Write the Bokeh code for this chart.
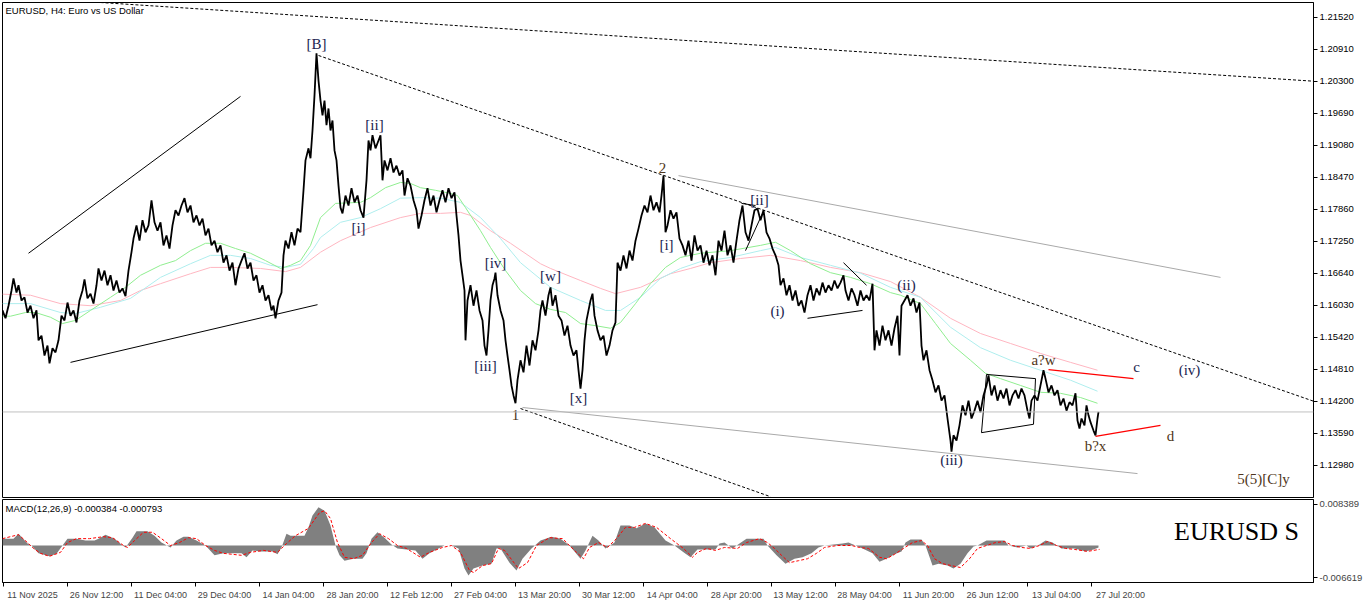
from bokeh.plotting import figure
from bokeh.layouts import column
from bokeh.models import Range1d, FixedTicker, NumeralTickFormatter, Span, Label, ColumnDataSource
from bokeh.core.properties import value
from bokeh.embed import file_html
from bokeh.resources import INLINE

# ---------------- data ----------------
bar_x = [2,5,8,11,13,16,18,21,24,27,30,33,36,38,41,44,47,49,52,55,58,61,64,67,70,73,76,79,82,84,87,90,93,96,98,
         101,104,107,110,113,116,119,122,125,128,131,133,136,139,142,145,148,151,154,157,160,163,166,169,172,175,178,
         181,184,187,190,193,196,199,202,205,208,211,214,217,220,223,226,229,232,235,238,241,244,247,250,253,256,259,
         262,265,268,271,273,275,278,281,283,285,288,291,294,297,300,303,305,308,310,312,314,316,318,320,322,324,326,
         328,330,332,334,336,338,340,342,345,348,351,354,357,360,363,366,368,370,372,375,378,380,382,384,387,390,393,
         396,399,402,404,407,410,413,416,418,421,424,427,430,433,436,439,442,445,448,451,454,456,458,460,462,464,465,
         467,470,473,476,479,482,484,486,488,490,492,494,495,497,500,503,505,507,509,511,513,515,517,520,523,526,529,
         532,535,538,540,542,545,548,550,552,555,558,561,564,567,570,573,576,578,580,582,584,586,588,590,592,594,597,
         600,603,606,609,612,615,617,620,623,626,629,632,635,638,641,644,647,650,653,656,659,661,663,665,667,670,673,
         676,679,682,685,688,691,694,697,700,703,706,709,712,715,718,721,724,727,730,733,736,739,742,745,748,751,754,
         757,760,763,766,769,772,775,778,780,783,786,789,792,795,798,801,804,807,810,813,816,819,822,825,828,831,834,
         837,840,843,845,848,851,854,857,860,863,866,869,872,874,876,879,882,885,888,891,894,897,899,901,904,907,910,
         913,916,919,921,923,926,929,932,935,938,941,944,947,950,951,953,956,959,962,965,968,971,974,977,980,983,986,
         988,991,994,997,1000,1003,1006,1009,1012,1015,1018,1021,1024,1027,1029,1031,1034,1037,1040,1043,1045,1048,
         1051,1054,1057,1060,1063,1066,1069,1072,1075,1077,1079,1081,1084,1086,1088,1090,1093,1095,1097,1098]
close = [1.1593,1.1578,1.1602,1.1631,1.1654,1.1627,1.1641,1.1612,1.1618,1.1589,1.1602,1.1578,1.1593,1.1536,1.1545,
         1.1507,1.1526,1.1492,1.1521,1.1513,1.1536,1.1583,1.1574,1.1608,1.1583,1.1593,1.1570,1.1612,1.1631,1.1652,
         1.1616,1.1625,1.1606,1.1641,1.1673,
         1.1650,1.1669,1.1641,1.1660,1.1631,1.1650,1.1627,1.1635,1.1620,1.1669,1.1704,1.1730,1.1755,1.1726,1.1765,
         1.1742,1.1755,1.1803,1.1761,1.1745,1.1761,1.1717,1.1736,1.1711,1.1755,1.1784,1.1774,
         1.1793,1.1807,1.1780,1.1793,1.1761,1.1774,1.1755,1.1768,1.1736,1.1749,1.1717,1.1726,1.1704,1.1717,1.1684,
         1.1698,1.1669,1.1684,1.1641,1.1673,1.1688,1.1702,1.1673,1.1684,1.1650,1.1660,1.1627,
         1.1641,1.1612,1.1622,1.1593,1.1602,1.1578,1.1612,1.1627,1.1698,1.1726,1.1711,1.1742,1.1717,1.1749,1.1742,
         1.1822,1.1879,1.1902,1.1883,1.1936,1.2003,1.2083,1.2031,1.1993,1.1965,1.1993,1.1946,
         1.1978,1.1936,1.1955,1.1898,1.1879,1.1831,1.1789,1.1778,1.1812,1.1793,1.1826,1.1799,1.1812,1.1784,1.1770,
         1.1841,1.1917,1.1898,1.1927,1.1902,1.1917,1.1927,1.1841,1.1879,1.1860,1.1883,1.1856,
         1.1869,1.1850,1.1860,1.1812,1.1845,1.1831,1.1803,1.1784,1.1749,1.1774,1.1803,1.1826,1.1793,1.1812,1.1780,
         1.1803,1.1822,1.1799,1.1826,1.1807,1.1818,1.1774,1.1736,1.1688,1.1660,1.1631,1.1536,
         1.1612,1.1641,1.1602,1.1631,1.1593,1.1574,1.1526,1.1507,1.1555,1.1612,1.1641,1.1654,1.1665,1.1622,1.1593,
         1.1574,1.1536,1.1507,1.1479,1.1450,1.1431,1.1416,1.1460,1.1498,1.1475,1.1526,1.1488,
         1.1536,1.1517,1.1555,1.1593,1.1612,1.1583,1.1622,1.1637,1.1602,1.1622,1.1583,1.1574,1.1545,1.1564,1.1526,
         1.1507,1.1517,1.1479,1.1444,1.1479,1.1536,1.1574,1.1593,1.1612,1.1625,1.1583,1.1555,
         1.1536,1.1545,1.1507,1.1526,1.1555,1.1570,1.1684,1.1669,1.1698,1.1673,1.1707,1.1688,1.1726,1.1749,1.1774,
         1.1793,1.1780,1.1812,1.1784,1.1799,1.1780,1.1812,1.1850,1.1742,1.1755,1.1784,1.1768,
         1.1780,1.1730,1.1717,1.1698,1.1726,1.1688,1.1736,1.1707,1.1717,1.1684,1.1707,1.1679,1.1698,1.1660,1.1726,
         1.1707,1.1745,1.1698,1.1717,1.1684,1.1726,1.1765,1.1793,1.1742,1.1726,1.1755,1.1784,
         1.1787,1.1765,1.1784,1.1742,1.1730,1.1711,1.1698,1.1679,1.1641,1.1654,1.1622,1.1641,1.1612,1.1631,1.1602,
         1.1612,1.1589,1.1622,1.1641,1.1612,1.1635,1.1622,1.1646,1.1627,1.1641,1.1631,1.1650,
         1.1635,1.1646,1.1660,1.1631,1.1612,1.1635,1.1622,1.1602,1.1631,1.1612,1.1622,1.1612,1.1644,1.1517,1.1555,
         1.1526,1.1564,1.1536,1.1555,1.1526,1.1559,1.1583,1.1507,1.1602,1.1612,1.1622,1.1602,
         1.1616,1.1589,1.1608,1.1526,1.1498,1.1517,1.1479,1.1460,1.1437,1.1450,1.1421,1.1431,1.1387,1.1345,1.1324,
         1.1355,1.1345,1.1374,1.1412,1.1393,1.1421,1.1387,1.1402,1.1421,1.1399,1.1431,1.1450,
         1.1469,1.1431,1.1450,1.1421,1.1441,1.1425,1.1444,1.1412,1.1431,1.1441,1.1425,1.1444,1.1431,1.1402,1.1387,
         1.1421,1.1431,1.1421,1.1450,1.1479,1.1463,1.1437,
         1.1450,1.1431,1.1441,1.1412,1.1425,1.1402,1.1418,1.1412,1.1435,1.1383,1.1368,1.1387,1.1374,1.1412,1.1393,
         1.1380,1.1364,1.1355,1.1387,1.13995]
assert len(bar_x) == len(close), (len(bar_x), len(close))

ma_fast_x = [2,10,25,35,50,62,75,90,110,125,140,160,175,190,205,220,235,250,265,280,290,300,310,320,335,360,370,
             385,400,410,420,435,450,457,465,480,490,505,520,535,550,565,580,595,610,620,635,650,665,680,700,730,
             760,775,790,810,830,850,870,890,900,920,935,950,970,985,1000,1020,1040,1060,1080,1097]
ma_fast = [1.1582,1.1582,1.1589,1.1589,1.1580,1.1568,1.1574,1.1593,1.1618,1.1637,1.1660,1.1679,1.1688,1.1707,
           1.1721,1.1721,1.1711,1.1702,1.1688,1.1673,1.1679,1.1688,1.1717,1.1770,1.1797,1.1799,1.1808,1.1827,
           1.1837,1.1835,1.1827,1.1822,1.1816,1.1812,1.1789,1.1745,1.1713,1.1669,1.1631,1.1606,1.1595,1.1589,
           1.1568,1.1564,1.1559,1.1570,1.1606,1.1644,1.1675,1.1694,1.1702,1.1707,1.1717,1.1723,1.1707,1.1682,
           1.1665,1.1656,1.1644,1.1627,1.1622,1.1606,1.1568,1.1530,1.1498,1.1473,1.1463,1.1450,1.1437,1.1435,
           1.1427,1.1416]
ma_mid_x = [2,30,60,75,100,130,160,190,210,230,250,270,285,300,313,320,340,360,380,400,420,440,460,480,500,520,
            550,580,605,620,640,660,680,700,730,760,775,800,830,860,890,920,950,980,1010,1040,1070,1097]
ma_mid = [1.1606,1.1606,1.1589,1.1587,1.1599,1.1616,1.1656,1.1682,1.1698,1.1698,1.1692,1.1679,1.1675,1.1681,
          1.1711,1.1732,1.1761,1.1770,1.1787,1.1807,1.1808,1.1807,1.1799,1.1770,1.1730,1.1684,1.1637,1.1612,
          1.1593,1.1593,1.1618,1.1654,1.1673,1.1686,1.1694,1.1707,1.1713,1.1694,1.1679,1.1664,1.1637,1.1618,
          1.1561,1.1522,1.1498,1.1479,1.1460,1.1439]
ma_slow_x = [2,30,60,90,120,140,160,190,210,230,260,285,300,320,340,370,400,420,440,460,470,490,510,540,550,580,
             600,615,640,670,690,710,740,770,800,830,860,890,920,950,980,1010,1040,1070,1097]
ma_slow = [1.1624,1.1622,1.1606,1.1602,1.1612,1.1631,1.1644,1.1663,1.1675,1.1675,1.1673,1.1667,1.1675,1.1704,
           1.1726,1.1751,1.1770,1.1778,1.1778,1.1780,1.1774,1.1745,1.1721,1.1682,1.1673,1.1650,1.1635,1.1625,
           1.1637,1.1663,1.1673,1.1684,1.1692,1.1698,1.1688,1.1675,1.1665,1.1648,1.1618,1.1578,1.1549,1.1530,
           1.1511,1.1494,1.1479]

macd_x = [2,13,18,27,31,38,45,49,56,62,67,76,85,94,98,105,114,121,125,132,136,147,154,161,170,176,183,188,196,205,
          214,223,241,246,252,259,272,277,281,286,290,304,308,312,318,324,330,335,339,344,353,362,366,371,377,384,
          391,397,406,415,422,429,438,444,451,458,464,468,473,482,491,496,500,509,516,522,531,540,551,560,569,580,
          585,592,598,605,614,620,629,636,645,654,665,674,683,690,697,706,715,719,724,732,739,746,763,767,776,785,
          794,802,811,818,824,833,842,848,855,862,872,879,886,894,901,905,910,921,925,932,938,947,953,960,967,973,
          977,986,1004,1008,1017,1026,1030,1039,1045,1052,1061,1074,1085,1093,1098]
macd_hist = [0.0014,0.0014,0.0024,0.0004,0.0,-0.0016,-0.0020,-0.0022,-0.0017,0.0,0.0014,0.0014,0.0010,0.0010,
             0.0014,0.0022,0.0014,0.0002,-0.0004,0.0016,0.0029,0.0029,0.0020,0.0006,-0.0004,0.0010,0.0018,0.0018,
             0.0010,0.0,-0.0020,-0.0016,-0.0016,-0.0024,-0.0010,-0.0012,-0.0012,-0.0018,-0.0004,0.0024,0.0020,
             0.0020,0.0037,0.0061,0.0078,0.0071,0.0041,0.0,-0.0020,-0.0031,-0.0027,-0.0027,-0.0016,0.0014,0.0027,
             0.0016,0.0002,-0.0006,-0.0008,-0.0010,-0.0027,-0.0016,-0.0006,0.0,0.0,-0.0006,-0.0047,-0.0061,-0.0047,
             -0.0041,-0.0037,-0.0006,-0.0006,-0.0035,-0.0051,-0.0027,-0.0006,0.0010,0.0018,0.0014,0.0,-0.0027,
             -0.0010,0.0020,0.0010,-0.0006,0.0006,0.0041,0.0041,0.0035,0.0045,0.0037,0.0010,0.0,-0.0014,-0.0024,
             -0.0008,-0.0008,-0.0008,0.0004,0.0006,-0.0006,0.0004,0.0014,0.0014,0.0,-0.0020,-0.0037,-0.0027,
             -0.0024,-0.0016,-0.0004,0.0,0.0002,0.0004,0.0006,0.0,-0.0006,-0.0016,-0.0033,-0.0027,-0.0018,-0.0012,
             0.0006,0.0012,0.0012,0.0,-0.0041,-0.0037,-0.0041,-0.0047,-0.0037,-0.0016,-0.0002,0.0,0.0010,0.0010,
             0.0,-0.0004,0.0,-0.0006,0.0002,0.0010,0.0006,-0.0006,-0.0006,-0.0012,-0.0008,-0.0004]
assert len(macd_x) == len(macd_hist), (len(macd_x), len(macd_hist))
signal_x = [2,18,27,33,40,49,60,67,76,89,103,112,123,127,134,143,152,161,170,179,188,196,205,214,223,241,250,263,
            277,286,295,308,319,324,330,337,344,353,362,371,379,388,397,406,420,429,442,451,460,469,473,482,491,498,
            504,518,527,536,549,562,576,583,589,598,607,616,625,634,645,656,670,683,692,697,706,715,724,737,746,759,
            767,774,781,789,798,807,816,824,837,851,859,868,879,886,894,903,912,921,927,934,942,951,960,969,977,986,
            995,1004,1012,1021,1030,1039,1047,1056,1065,1074,1087,1099]
signal = [0.0014,0.0022,0.0006,-0.0006,-0.0016,-0.0022,-0.0014,0.0006,0.0014,0.0014,0.0018,0.0016,0.0,-0.0004,
          0.0010,0.0027,0.0027,0.0014,0.0,0.0006,0.0016,0.0014,0.0,-0.0010,-0.0016,-0.0020,-0.0014,-0.0010,-0.0014,
          0.0004,0.0020,0.0035,0.0067,0.0071,0.0055,0.0006,-0.0024,-0.0027,-0.0020,0.0006,0.0024,0.0014,0.0,
          -0.0006,-0.0024,-0.0014,-0.0004,0.0,-0.0014,-0.0051,-0.0055,-0.0041,-0.0037,-0.0006,-0.0010,-0.0047,
          -0.0035,0.0,0.0016,0.0014,-0.0014,-0.0027,-0.0004,0.0006,-0.0004,0.0014,0.0037,0.0037,0.0045,0.0037,
          0.0014,-0.0006,-0.0024,-0.0014,-0.0006,-0.0010,-0.0004,-0.0006,0.0006,0.0014,0.0006,-0.0006,-0.0020,
          -0.0035,-0.0031,-0.0027,-0.0016,-0.0004,0.0,0.0,-0.0004,-0.0006,-0.0024,-0.0027,-0.0018,-0.0006,0.0006,
          0.0010,0.0,-0.0027,-0.0037,-0.0041,-0.0045,-0.0027,-0.0006,0.0,0.0006,0.0008,0.0,-0.0004,-0.0006,0.0,
          0.0008,0.0,-0.0006,-0.0008,-0.0012,-0.0008]
assert len(signal_x) == len(signal), (len(signal_x), len(signal))

price_ticks = [1.21520, 1.20910, 1.20300, 1.19690, 1.19080, 1.18470, 1.17860, 1.17250, 1.16640,
               1.16030, 1.15420, 1.14810, 1.14200, 1.13590, 1.12980]
macd_ticks = [0.008389, -0.006619]
date_labels = ["11 Nov 2025", "26 Nov 12:00", "11 Dec 04:00", "29 Dec 04:00", "14 Jan 04:00", "28 Jan 20:00",
               "12 Feb 12:00", "27 Feb 04:00", "13 Mar 20:00", "30 Mar 12:00", "14 Apr 04:00", "28 Apr 20:00",
               "13 May 12:00", "28 May 04:00", "11 Jun 20:00", "26 Jun 12:00", "13 Jul 04:00", "27 Jul 20:00"]
date_ticks = [3, 67, 131, 195, 259, 323, 387, 451, 515, 579, 643, 707, 771, 835, 899, 963, 1027, 1091]
last_price = 1.13995

# drawn objects (trend lines, channels, wave labels)
dotted_x = [[100, 1313], [318, 1313], [520, 770]]
dotted_y = [[1.2180, 1.2030], [1.2079, 1.1420], [1.1406, 1.1238]]
gray_x = [[678, 1220], [522, 1137]]
gray_y = [[1.1850, 1.1656], [1.1408, 1.1282]]
black_x = [[28, 240], [70, 317], [741, 755], [745, 762], [807, 862], [843, 866]]
black_y = [[1.1702, 1.2001], [1.1494, 1.1604], [1.1797, 1.1793], [1.1707, 1.1778], [1.1578, 1.1593], [1.1684, 1.1641]]
box_x = [986, 1035, 1033, 981, 986]
box_y = [1.1471, 1.1463, 1.1376, 1.1360, 1.1471]
red_x = [[1048, 1133], [1095, 1160]]
red_y = [[1.1480, 1.1463], [1.1353, 1.1374]]

NAVY = "#1b2450"
BROWN = "#4f3620"
wave_text = ["[B]", "[ii]", "[i]", "[iv]", "[iii]", "[w]", "[x]", "1", "2", "[i]", "[ii]", "(i)", "(ii)", "(iii)",
             "a?w", "b?x", "c", "d", "(iv)", "5(5)[C]y"]
wave_x = [316, 374, 358, 495, 485, 550, 578, 515, 662, 666, 759, 777, 906, 951, 1043, 1095, 1136, 1170, 1189, 1263]
wave_y = [1.2100, 1.1946, 1.1751, 1.1683, 1.1488, 1.1658, 1.1427, 1.1393, 1.1865, 1.1717, 1.1803, 1.1591, 1.1641,
          1.1307, 1.1498, 1.1334, 1.1486, 1.1353, 1.1479, 1.1271]
wave_color = [NAVY, NAVY, NAVY, NAVY, NAVY, NAVY, NAVY, BROWN, BROWN, NAVY, NAVY, NAVY, NAVY, NAVY,
              BROWN, BROWN, NAVY, BROWN, NAVY, BROWN]

SANS = "Liberation Sans"
SERIF = "Liberation Serif"
FS = "9px"

# ---------------- main price panel ----------------
p = figure(width=1366, height=499, x_range=Range1d(2, 1313), y_range=Range1d(1.12364, 1.21800),
           output_backend="svg", toolbar_location=None, x_axis_location=None, y_axis_location="right",
           min_border_left=2, min_border_right=53, min_border_top=2, min_border_bottom=2)
p.grid.visible = False
p.outline_line_color = "black"
p.background_fill_color = "white"
p.border_fill_color = "white"
yax = p.yaxis[0]
yax.ticker = FixedTicker(ticks=price_ticks)
yax.formatter = NumeralTickFormatter(format="0.00000")
yax.major_label_text_font = SANS
yax.major_label_text_font_size = "9.5px"
yax.major_label_text_color = "black"
yax.major_tick_out = 4
yax.major_tick_in = 0
yax.minor_tick_out = 0
yax.minor_tick_in = 0
yax.major_label_standoff = 2
yax.axis_line_color = "black"

p.add_layout(Span(location=last_price, dimension="width", line_color="#c0c0c0", line_width=1))

p.line(ma_slow_x, ma_slow, line_color="#ffb6c1", line_width=1)
p.line(ma_mid_x, ma_mid, line_color="#afeeee", line_width=1)
p.line(ma_fast_x, ma_fast, line_color="#90ee90", line_width=1)

p.multi_line(dotted_x, dotted_y, line_color="black", line_dash="3 2", line_width=1)
p.multi_line(gray_x, gray_y, line_color="#a9a9a9", line_width=1)
p.multi_line(black_x, black_y, line_color="black", line_width=1)
p.line(box_x, box_y, line_color="black", line_width=1)
p.multi_line(red_x, red_y, line_color="red", line_width=1.3)

p.line(bar_x, close, line_color="black", line_width=1.8)

src = ColumnDataSource(dict(x=wave_x, y=wave_y, text=wave_text, color=wave_color))
p.text(x="x", y="y", text="text", text_color="color", source=src, text_font=value(SERIF),
       text_font_size="15px", text_align="center", text_baseline="middle")

p.add_layout(Label(x=5, y=1.2165, text="EURUSD, H4:  Euro vs US Dollar", text_font=SANS, text_font_size="9.5px",
                   text_baseline="middle", text_color="black"))
p.add_layout(Label(x=1316, y=last_price, text="1.13995", text_font=SANS, text_font_size="9.5px",
                   text_baseline="middle", text_color="white", background_fill_color="#c0c0c0"))

# ---------------- MACD panel ----------------
m = figure(width=1366, height=104, x_range=p.x_range, y_range=Range1d(-0.007548, 0.009384),
           output_backend="svg", toolbar_location=None, x_axis_location="below", y_axis_location="right",
           min_border_left=2, min_border_right=53, min_border_top=0, min_border_bottom=21)
m.grid.visible = False
m.outline_line_color = "black"
m.background_fill_color = "white"
m.border_fill_color = "white"
# MetaTrader writes each date to the right of its tick: labels sit on major ticks placed
# half a label width to the right, the tick marks themselves are drawn as minor ticks
label_pos = [t + 29 for t in date_ticks]
xax = m.xaxis[0]
xax.ticker = FixedTicker(ticks=label_pos, minor_ticks=date_ticks)
xax.major_label_overrides = {t: s for t, s in zip(label_pos, date_labels)}
xax.major_label_text_font = SANS
xax.major_label_text_font_size = FS
xax.major_tick_out = 0
xax.major_tick_in = 0
xax.minor_tick_out = 4
xax.minor_tick_in = 0
xax.minor_tick_line_color = "black"
xax.major_label_standoff = 3
xax.axis_line_color = "black"
myax = m.yaxis[0]
myax.ticker = FixedTicker(ticks=macd_ticks)
myax.formatter = NumeralTickFormatter(format="0.000000")
myax.major_label_text_font = SANS
myax.major_label_text_font_size = "9.5px"
myax.major_tick_out = 4
myax.major_tick_in = 0
myax.minor_tick_out = 0
myax.minor_tick_in = 0
myax.major_label_standoff = 2

m.varea(x=macd_x, y1=0, y2=macd_hist, fill_color="#808080")
m.line(signal_x, signal, line_color="red", line_dash="3 2", line_width=1)
m.add_layout(Label(x=5, y=0.00755, text="MACD(12,26,9) -0.000384 -0.000793", text_font=SANS, text_font_size="9.5px",
                   text_baseline="middle", text_color="black"))
m.add_layout(Label(x=1236, y=0.0029, text="EURUSD S", text_font=SERIF, text_font_size="26px",
                   text_align="center", text_baseline="middle", text_color="black"))

layout = column(p, m, spacing=0)
open("out.html", "w").write(file_html(layout, INLINE))
